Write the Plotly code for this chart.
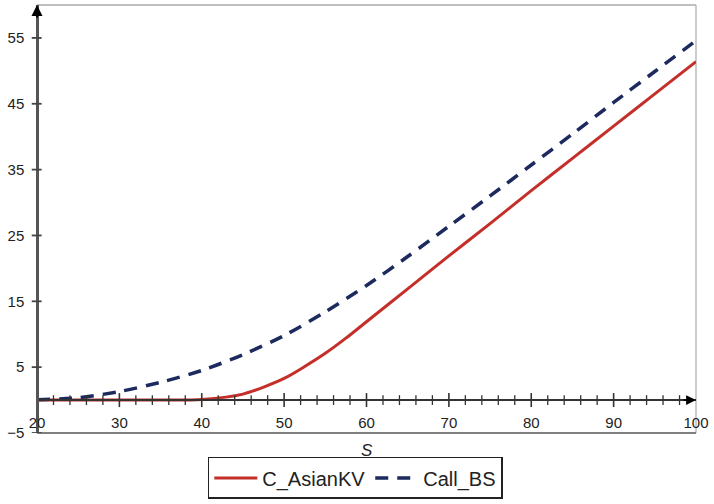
import plotly.graph_objects as go

# Data
s_asian = [20, 30, 35, 40, 45, 50, 52.5, 55, 57.5, 60, 65, 70, 75, 80, 85, 90, 95, 100]
c_asian = [0, 0, 0, 0.08, 0.9, 3.3, 5.1, 7.1, 9.4, 11.9, 16.9, 21.9, 26.8, 31.8, 36.7, 41.6, 46.5, 51.4]

s_bs = [20, 25, 30, 35, 40, 45, 50, 55, 60, 65, 70, 75, 80, 85, 90, 95, 100]
c_bs = [0.05, 0.35, 1.3, 2.7, 4.5, 6.9, 9.8, 13.4, 17.4, 21.8, 26.4, 31.0, 35.7, 40.4, 45.2, 49.9, 54.6]

x_range = [20, 100]
y_range = [-5, 60]
x_major_ticks = [20, 30, 40, 50, 60, 70, 80, 90, 100]
x_minor_ticks = [v for v in range(22, 100, 2) if v % 10 != 0]
y_ticks = [-5, 5, 15, 25, 35, 45, 55]

FONT = "Liberation Sans, Arial, Helvetica, sans-serif"
AX = "#333333"
YAX = "#555555"

fig = go.Figure()
fig.add_trace(go.Scatter(x=s_asian, y=c_asian, name="C_AsianKV", mode="lines",
                         line=dict(color="#c42f2a", width=3, shape="spline", smoothing=0.8)))
fig.add_trace(go.Scatter(x=s_bs, y=c_bs, name="Call_BS", mode="lines",
                         line=dict(color="#1c2a5e", width=3.5, dash="13px,9px", shape="spline", smoothing=0.8)))

# crossing tick marks on the x axis (at y = 0)
fig.add_trace(go.Scatter(x=x_minor_ticks, y=[0] * len(x_minor_ticks), mode="markers",
                         marker=dict(symbol="line-ns", size=7, line=dict(color=AX, width=1.3)),
                         showlegend=False, hoverinfo="skip", cliponaxis=False))
fig.add_trace(go.Scatter(x=x_major_ticks[1:-1], y=[0] * (len(x_major_ticks) - 2), mode="markers",
                         marker=dict(symbol="line-ns", size=10, line=dict(color=AX, width=1.6)),
                         showlegend=False, hoverinfo="skip", cliponaxis=False))

ypos0 = (0 - y_range[0]) / (y_range[1] - y_range[0])

shapes = [
    dict(type="line", xref="paper", yref="paper", x0=0, x1=1, y0=1, y1=1,
         line=dict(color="#aaaaaa", width=1.5), layer="below"),
    dict(type="line", xref="paper", yref="paper", x0=1, x1=1, y0=0, y1=1,
         line=dict(color="#aaaaaa", width=1.2), layer="below"),
    dict(type="line", xref="paper", yref="paper", x0=0, x1=1, y0=0, y1=0,
         line=dict(color="#808080", width=2), layer="below"),
]
# crossing tick marks on the y axis
for t in y_ticks:
    shapes.append(dict(type="line", xref="paper", yref="y", x0=-0.008, x1=0.007, y0=t, y1=t,
                       line=dict(color="#444444", width=1.8), layer="above"))

fig.update_layout(
    width=714, height=504,
    margin=dict(l=37, r=12, t=5, b=70),
    paper_bgcolor="white", plot_bgcolor="white",
    font=dict(family=FONT, size=15, color="#222222"),
    xaxis=dict(range=x_range, anchor="free", position=ypos0, showline=True, linecolor=AX, linewidth=1.5,
               tickvals=x_major_ticks, ticks="outside", ticklen=4, tickcolor="rgba(0,0,0,0)",
               showgrid=False, zeroline=False, ticklabelstandoff=5, ticklabeloverflow="allow",
               tickfont=dict(size=15, color="#222222")),
    yaxis=dict(range=y_range, anchor="free", position=0, showline=True, linecolor=YAX, linewidth=2.5,
               tickvals=y_ticks, ticks="outside", ticklen=4, tickcolor="rgba(0,0,0,0)",
               showgrid=False, zeroline=False, ticklabelstandoff=5, ticklabeloverflow="allow",
               tickfont=dict(size=15, color="#222222")),
    legend=dict(orientation="h", x=0.483, xanchor="center", y=-0.056, yanchor="top",
                bordercolor="#222222", borderwidth=1.5, font=dict(size=20, color="#222222"),
                itemwidth=43, traceorder="normal"),
    shapes=shapes,
    annotations=[
        dict(x=x_range[0], y=y_range[1], xref="x", yref="y", text="", showarrow=True,
             ax=0, ay=14, arrowhead=2, arrowsize=1.1, arrowwidth=2, arrowcolor="black"),
        dict(x=x_range[1], y=0, xref="x", yref="y", text="", showarrow=True,
             ax=-14, ay=0, arrowhead=2, arrowsize=1.1, arrowwidth=1.8, arrowcolor="black"),
        dict(x=0.5, y=-0.04, xref="paper", yref="paper", text="<i>S</i>", showarrow=False,
             font=dict(size=17, color="#222222"), yanchor="middle"),
    ],
)

fig.write_html("out.html")
